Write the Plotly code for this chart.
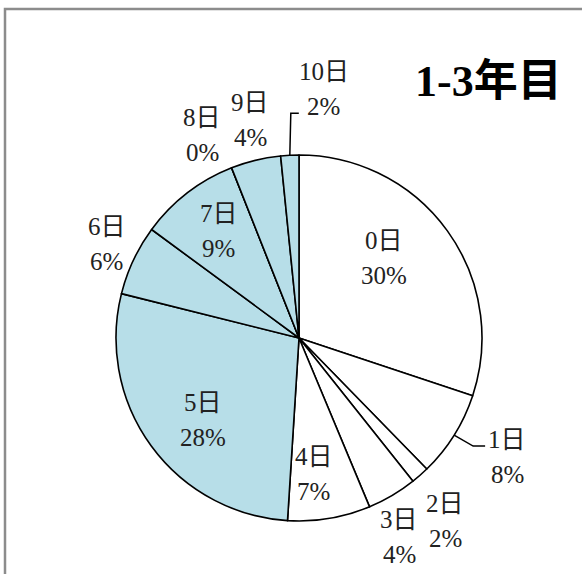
import math
import plotly.graph_objects as go

# ---- data ----
categories = ["0日", "1日", "2日", "3日", "4日", "5日", "6日", "7日", "8日", "9日", "10日"]
values = [30.1, 7.6, 1.6, 4.4, 7.3, 27.9, 6.2, 8.9, 0.0, 4.4, 1.6]
percent_labels = ["30%", "8%", "2%", "4%", "7%", "28%", "6%", "9%", "0%", "4%", "2%"]
title_text = "1-3年目"

# ---- style / layout ----
W, H = 582, 574
CX, CY, R = 299, 338, 183          # pie centre and radius in pixels
WHITE, BLUE = "#FFFFFF", "#B7DEE8"
colors = [WHITE] * 5 + [BLUE] * 6
label_r = [0.64, 1.31, 1.28, 1.22, 0.75, 0.69, 1.17, 0.73, 1.23, 1.22, 1.37]
label_da = [-7.5, -2.3, 2.8, 3.9, 3.3, -4.6, 0.8, 0.6, -3.9, 1.1, 8.6]
FONT = "Liberation Serif, Noto Sans CJK JP, serif"
FS = 25
LINE_GAP = 17.5

fig = go.Figure(go.Pie(
    labels=categories,
    values=values,
    sort=False,
    direction="clockwise",
    rotation=0,
    marker=dict(colors=colors, line=dict(color="black", width=1.6)),
    textinfo="none",
    hoverinfo="label+percent",
    domain=dict(x=[(CX - R) / W, (CX + R) / W],
                y=[(H - CY - R) / H, (H - CY + R) / H]),
    showlegend=False,
))

def px2paper(px, py):
    return px / W, 1 - py / H

annotations = []
total = sum(values)
cum = 0.0
mids = []
for i, v in enumerate(values):
    mid = (cum + v / 2) / total * 360
    mids.append(mid)
    cum += v
    th = math.radians(mid + label_da[i])
    lx = CX + label_r[i] * R * math.sin(th)
    ly = CY - label_r[i] * R * math.cos(th)
    x, y = px2paper(lx, ly)
    for txt, shift in ((categories[i], LINE_GAP), (percent_labels[i], -LINE_GAP)):
        annotations.append(dict(x=x, y=y, xref="paper", yref="paper", text=txt,
                                showarrow=False, yshift=shift,
                                xanchor="center", yanchor="middle",
                                font=dict(family=FONT, size=FS, color="#222")))

annotations.append(dict(x=488 / W, y=1 - 81 / H, xref="paper", yref="paper",
                        text="<b>" + title_text + "</b>", showarrow=False,
                        xanchor="center", yanchor="middle",
                        font=dict(family=FONT, size=44, color="black")))

shapes = []
# leader lines for slices 1 and 10
def edge_point(i, rf=1.0):
    th = math.radians(mids[i])
    return CX + rf * R * math.sin(th), CY - rf * R * math.cos(th)

sx, sy = edge_point(1)
pts = [(sx, sy), (sx + 19, sy + 11), (sx + 31, sy + 11)]
path = "M " + " L ".join("%f,%f" % px2paper(a, b) for a, b in pts)
shapes.append(dict(type="path", xref="paper", yref="paper", path=path,
                   line=dict(color="black", width=1.5)))
sx, sy = edge_point(10)
pts = [(sx, sy), (sx + 1, sy - 42), (sx + 9, sy - 42)]
path = "M " + " L ".join("%f,%f" % px2paper(a, b) for a, b in pts)
shapes.append(dict(type="path", xref="paper", yref="paper", path=path,
                   line=dict(color="black", width=1.5)))

# chart border (extends past right and bottom edges)
shapes.append(dict(type="rect", xref="paper", yref="paper",
                   x0=5 / W, y0=-0.05, x1=1.05, y1=1 - 9 / H,
                   line=dict(color="#8C8C8C", width=2.5)))

fig.update_layout(
    width=W, height=H,
    margin=dict(l=0, r=0, t=0, b=0),
    paper_bgcolor="white",
    plot_bgcolor="white",
    annotations=annotations,
    shapes=shapes,
)

fig.write_html("out.html")
